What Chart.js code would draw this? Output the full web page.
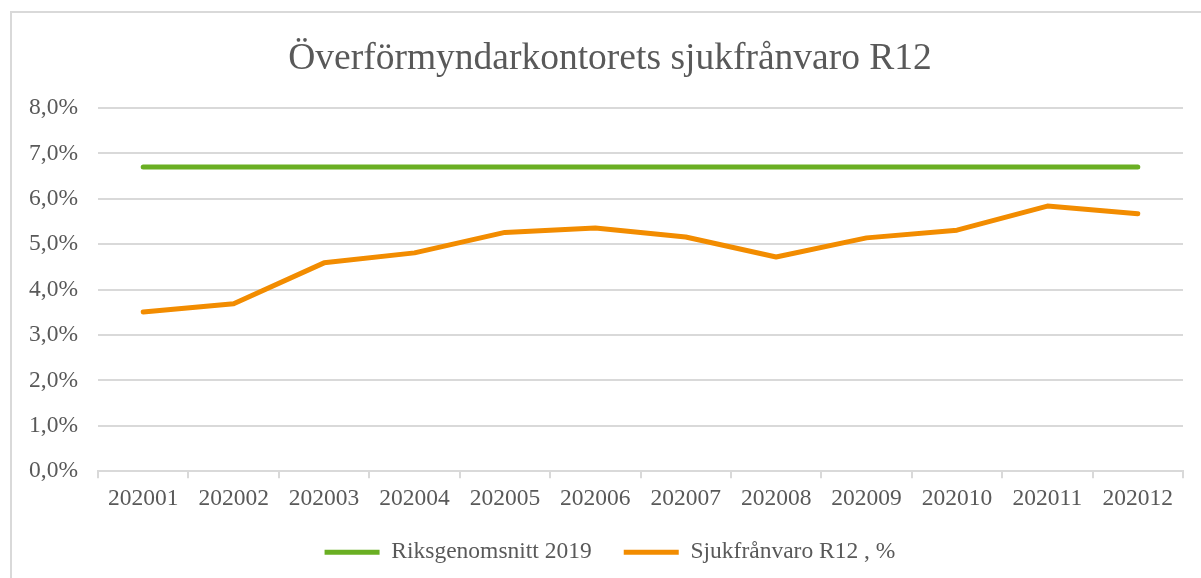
<!DOCTYPE html>
<html>
<head>
<meta charset="utf-8">
<script src="https://cdn.jsdelivr.net/npm/chart.js@4.4.1/dist/chart.umd.min.js"></script>
<style>
  html, body { margin: 0; padding: 0; background: #fff; overflow: hidden; }
  #frame { position: absolute; left: 10px; top: 11px; width: 1230px; height: 600px;
           border-left: 2px solid #d9d9d9; border-top: 2px solid #d9d9d9; }
  #chart { display: block; }
</style>
</head>
<body>
<div id="frame"><canvas id="chart" width="1196" height="565"></canvas></div>
<script>
const months = ['202001', '202002', '202003', '202004', '202005', '202006',
                '202007', '202008', '202009', '202010', '202011', '202012'];
const riksgenomsnitt = [6.7, 6.7, 6.7, 6.7, 6.7, 6.7, 6.7, 6.7, 6.7, 6.7, 6.7, 6.7];
const sjukfranvaro = [3.51, 3.69, 4.59, 4.81, 5.26, 5.36, 5.16, 4.72, 5.14, 5.31, 5.84, 5.67];
const yTicks = [0, 1, 2, 3, 4, 5, 6, 7, 8];

const serif = "'Liberation Serif', 'Times New Roman', serif";
const textColor = '#595959';
const gridColor = '#d9d9d9';

function pct(v) {
  return v.toFixed(1).replace('.', ',') + '%';
}

new Chart(document.getElementById('chart').getContext('2d'), {
  type: 'line',
  data: {
    labels: months,
    datasets: [
      { label: 'Riksgenomsnitt 2019', data: riksgenomsnitt, borderColor: '#6aaf23', backgroundColor: '#6aaf23',
        borderWidth: 5, pointRadius: 0, borderCapStyle: 'round', borderJoinStyle: 'round', tension: 0 },
      { label: 'Sjukfrånvaro R12 , %', data: sjukfranvaro, borderColor: '#f28c00', backgroundColor: '#f28c00',
        borderWidth: 5, pointRadius: 0, borderCapStyle: 'round', borderJoinStyle: 'round', tension: 0 }
    ]
  },
  options: {
    responsive: false,
    animation: false,
    layout: { padding: { left: 0, right: 0, top: 0, bottom: 4 } },
    plugins: {
      tooltip: { enabled: false },
      title: {
        display: true,
        text: 'Överförmyndarkontorets sjukfrånvaro R12',
        color: textColor,
        font: { family: serif, size: 37.5, weight: 'normal' },
        padding: { top: 24, bottom: 26 }
      },
      legend: {
        position: 'bottom',
        labels: {
          color: textColor,
          font: { family: serif, size: 23.5 },
          boxWidth: 55,
          boxHeight: 5,
          padding: 32,
          generateLabels(chart) {
            return chart.data.datasets.map((ds, i) => ({
              text: ds.label,
              fillStyle: ds.borderColor,
              strokeStyle: ds.borderColor,
              lineWidth: 0,
              fontColor: textColor,
              datasetIndex: i
            }));
          }
        }
      }
    },
    scales: {
      x: {
        offset: true,
        afterFit(scale) { scale.height -= 10; },
        grid: { display: true, drawOnChartArea: false, drawTicks: true, tickLength: 7, offset: true,
                color: gridColor, lineWidth: 2 },
        border: { display: true, color: gridColor, width: 2 },
        ticks: { color: textColor, font: { family: serif, size: 23.5 }, padding: 6, maxRotation: 0, autoSkip: false }
      },
      y: {
        min: 0,
        max: 8,
        afterBuildTicks(scale) { scale.ticks = yTicks.map(v => ({ value: v })); },
        afterFit(scale) { scale.width = 86; },
        grid: { color: gridColor, lineWidth: 2, drawTicks: false },
        border: { display: false },
        ticks: { color: textColor, font: { family: serif, size: 23.5 }, padding: 20, callback: v => pct(v) }
      },
      spacer: {
        type: 'linear',
        position: 'right',
        min: 0,
        max: 8,
        afterFit(scale) { scale.width = 25; },
        grid: { display: false },
        border: { display: false },
        ticks: { display: false }
      }
    }
  }
});
</script>
</body>
</html>
